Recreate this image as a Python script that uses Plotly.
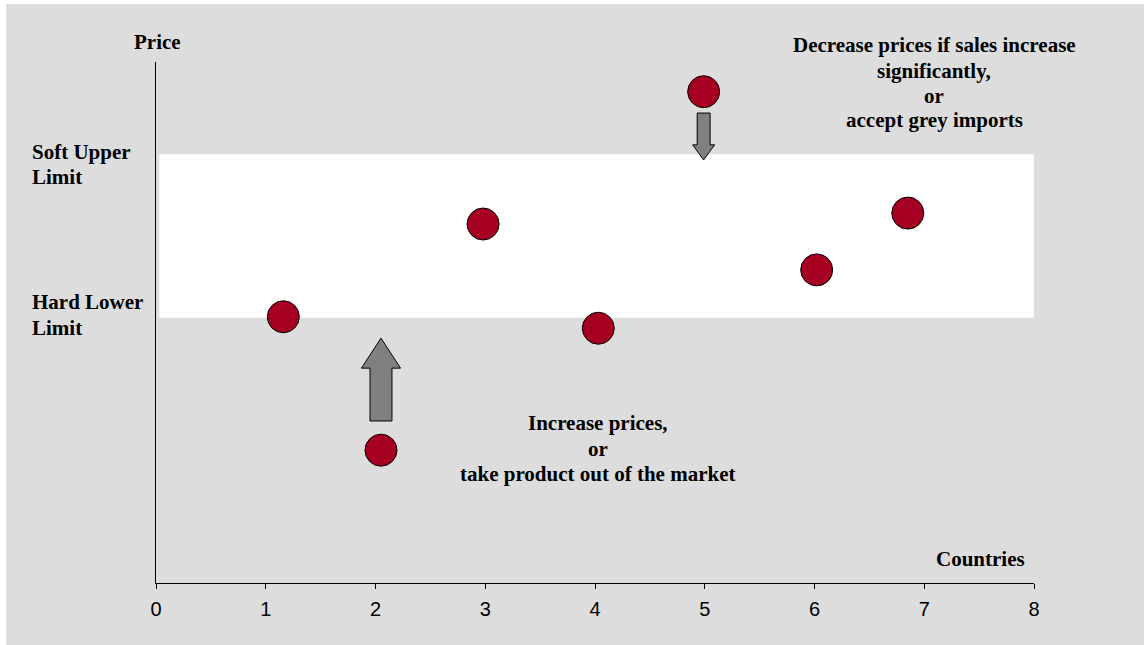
import plotly.graph_objects as go

# ---- data ----
countries_x = [1.16, 2.05, 2.98, 4.03, 4.99, 6.02, 6.85]
price_y = [5.11, 2.55, 6.89, 4.89, 9.43, 6.01, 7.10]

band_lower = 5.09   # Hard Lower Limit
band_upper = 8.23   # Soft Upper Limit

# arrows: centre x, base y, tip y
arrow_x = [2.05, 4.99]
arrow_base = [3.11, 9.02]
arrow_tip = [4.70, 8.12]
arrow_shaft_half = [0.10, 0.059]
arrow_head_half = [0.178, 0.10]
arrow_head_len = [0.576, 0.29]

x_ticks = [0, 1, 2, 3, 4, 5, 6, 7, 8]

W, H = 1144, 645
ML, MR, MT, MB = 156, 110, 62, 62
PW, PH = W - ML - MR, H - MT - MB

def px(x):
    return (x - ML) / PW

def py(y):
    return (H - MB - y) / PH

SERIF = "Liberation Serif, Times New Roman, serif"
SANS = "Liberation Sans, Arial, sans-serif"

fig = go.Figure()
fig.add_trace(go.Scatter(
    x=countries_x, y=price_y, mode="markers",
    marker=dict(size=32, color="#A50021", line=dict(color="black", width=1)),
    showlegend=False, hoverinfo="skip"))

shapes = [
    dict(type="rect", xref="paper", yref="paper", x0=px(6), x1=px(1144), y0=py(645), y1=py(4),
         fillcolor="#DDDDDD", line=dict(width=0), layer="below"),
    dict(type="rect", xref="x", yref="y", x0=0.03, x1=8, y0=band_lower, y1=band_upper,
         fillcolor="white", line=dict(width=0), layer="below"),
]

for cx, yb, yt, sh, hh, hl in zip(arrow_x, arrow_base, arrow_tip, arrow_shaft_half, arrow_head_half, arrow_head_len):
    d = 1 if yt > yb else -1
    yh = yt - d * hl
    path = (f"M {cx-sh},{yb} L {cx+sh},{yb} L {cx+sh},{yh} L {cx+hh},{yh} "
            f"L {cx},{yt} L {cx-hh},{yh} L {cx-sh},{yh} Z")
    shapes.append(dict(type="path", xref="x", yref="y", path=path,
                       fillcolor="#808080", line=dict(color="black", width=1), layer="above"))

annos = []
def txt(t, x, y, xanchor="center"):
    annos.append(dict(text=t, x=px(x), y=py(y), xref="paper", yref="paper",
                      xanchor=xanchor, yanchor="middle", showarrow=False,
                      font=dict(family=SERIF, size=21, color="black")))

txt("<b>Price</b>", 157, 42)
txt("<b>Soft Upper</b>", 30, 152, "left")
txt("<b>Limit</b>", 30, 177, "left")
txt("<b>Hard Lower</b>", 30, 302, "left")
txt("<b>Limit</b>", 30, 328, "left")
txt("<b>Decrease prices if sales increase</b>", 934, 45)
txt("<b>significantly,</b>", 934, 71)
txt("<b>or</b>", 934, 96)
txt("<b>accept grey imports</b>", 934, 120)
txt("<b>Increase prices,</b>", 598, 423)
txt("<b>or</b>", 598, 449)
txt("<b>take product out of the market</b>", 598, 474)
txt("<b>Countries</b>", 980, 559)

fig.update_layout(
    width=W, height=H,
    margin=dict(l=ML, r=MR, t=MT, b=MB),
    paper_bgcolor="white", plot_bgcolor="rgba(0,0,0,0)",
    shapes=shapes, annotations=annos,
    xaxis=dict(range=[0, 8], tickvals=x_ticks, ticktext=[str(v) for v in x_ticks],
               showline=True, linecolor="black", linewidth=1, ticks="outside",
               ticklen=5, tickcolor="black", showgrid=False, zeroline=False,
               ticklabelstandoff=3,
               tickfont=dict(family=SANS, size=20, color="black"), fixedrange=True),
    yaxis=dict(range=[0, 10], showline=True, linecolor="black", linewidth=1,
               showticklabels=False, ticks="", showgrid=False, zeroline=False, fixedrange=True),
)

fig.write_html("out.html", config={"displayModeBar": False})
